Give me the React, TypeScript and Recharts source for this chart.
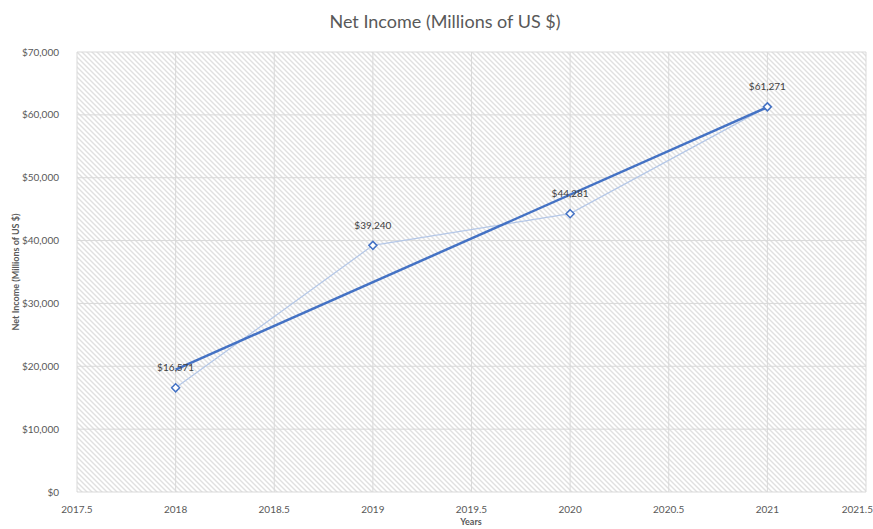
import React from "react";
import { CartesianGrid, ComposedChart, LabelList, Scatter, XAxis, YAxis } from "recharts";

const years = [2018, 2019, 2020, 2021];
const netIncome = [16571, 39240, 44281, 61271];

// linear trend line as drawn in the reference (endpoints)
const trendYears = [2018, 2021];
const trendValues = [19470, 61212];

const xTicks = [2017.5, 2018, 2018.5, 2019, 2019.5, 2020, 2020.5, 2021, 2021.5];
const yTicks = [0, 10000, 20000, 30000, 40000, 50000, 60000, 70000];

const points = years.map((x, i) => ({ x, y: netIncome[i] }));
const trend = trendYears.map((x, i) => ({ x, y: trendValues[i] }));

const FONT = "Lato, 'Open Sans', sans-serif";
const money = (v: number) => "$" + v.toLocaleString("en-US");

function Diamond(props: any) {
  const { cx, cy } = props;
  if (cx == null || cy == null) return <g />;
  const r = 4;
  return (
    <polygon
      points={`${cx},${cy - r} ${cx + r},${cy} ${cx},${cy + r} ${cx - r},${cy}`}
      fill="#fff"
      stroke="#4472C4"
      strokeWidth={1.5}
    />
  );
}

export default function App() {
  return (
    <div style={{ position: "absolute", left: 0, top: 0, width: 873, height: 529, background: "#fff", fontFamily: FONT, overflow: "hidden" }}>
      <svg width={0} height={0} style={{ position: "absolute" }}>
        <defs>
          <pattern id="hatch" patternUnits="userSpaceOnUse" width={5} height={5}>
            <rect width={5} height={5} fill="#fff" />
            <path d="M-1,-1 L6,6 M4,-1 L6,1 M-1,4 L1,6" stroke="#e0e0e0" strokeWidth={1.4} />
          </pattern>
        </defs>
      </svg>
      <div
        style={{
          position: "absolute",
          top: 10,
          left: 0,
          width: 890,
          textAlign: "center",
          fontSize: 18,
          color: "#595959",
        }}
      >
        Net Income (Millions of US $)
      </div>
      <ComposedChart width={873} height={529} margin={{ top: 52, right: 7, left: 0, bottom: 0 }}>
        <CartesianGrid fill="url(#hatch)" stroke="#d9d9d9" strokeWidth={1} />
        <XAxis
          type="number"
          dataKey="x"
          domain={[2017.5, 2021.5]}
          ticks={xTicks}
          allowDataOverflow
          height={37}
          axisLine={false}
          tickLine={false}
          tickMargin={8}
          tick={{ fontSize: 10, fill: "#595959", fontFamily: FONT }}
          label={{
            content: () => (
              <text x={471} y={525} textAnchor="middle" fontSize={9} fontWeight="bold" fill="#595959" fontFamily={FONT}>
                Years
              </text>
            ),
          }}
        />
        <YAxis
          type="number"
          dataKey="y"
          domain={[0, 70000]}
          ticks={yTicks}
          width={77}
          axisLine={false}
          tickLine={false}
          tickMargin={12}
          tickFormatter={money}
          tick={{ fontSize: 10, fill: "#595959", fontFamily: FONT }}
          label={{
            content: () => (
              <text
                x={19}
                y={272}
                transform="rotate(-90 19 272)"
                textAnchor="middle"
                fontSize={9}
                fontWeight="bold"
                fill="#595959"
                fontFamily={FONT}
              >
                Net Income (Millions of US $)
              </text>
            ),
          }}
        />
        <Scatter
          data={points}
          line={{ stroke: "#B4C7E7", strokeWidth: 1.25 }}
          lineType="joint"
          shape={() => <g />}
          isAnimationActive={false}
        />
        <Scatter
          data={trend}
          line={{ stroke: "#4472C4", strokeWidth: 2.5 }}
          lineType="joint"
          shape={() => <g />}
          isAnimationActive={false}
        />
        <Scatter data={points} shape={Diamond} isAnimationActive={false}>
          <LabelList
            dataKey="y"
            position="top"
            offset={12}
            formatter={(v: any) => money(Number(v))}
            style={{ fontSize: 10, fill: "#404040", fontFamily: FONT }}
          />
        </Scatter>
      </ComposedChart>
    </div>
  );
}
